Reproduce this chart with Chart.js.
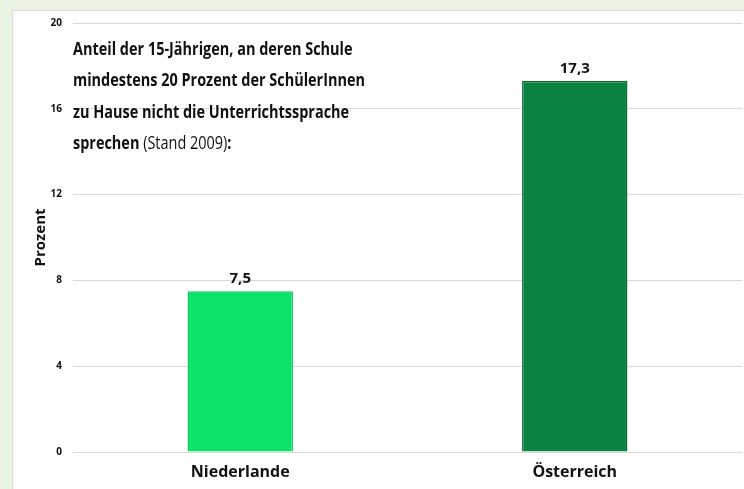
<!DOCTYPE html>
<html lang="de">
<head>
    <meta charset="UTF-8">
    <title>Anteil der 15-Jährigen</title>
    <script src="https://cdn.jsdelivr.net/npm/chart.js"></script>
    <style>
        body {
            margin: 0;
            padding: 0;
            background-color: #ebf3e2;
            width: 744px;
            height: 489px;
            overflow: hidden;
        }
        .panel {
            position: absolute;
            left: 12px;
            top: 10px;
            width: 732px;
            height: 479px;
            background: white;
            border-top: 1px solid #dcdcdc;
            border-left: 1px solid #dcdcdc;
            box-sizing: border-box;
        }
        .panel canvas {
            position: absolute;
            left: 0;
            top: -5px;
        }
    </style>
</head>
<body>
    <div class="panel">
        <canvas id="chart" width="731" height="483"></canvas>
    </div>

    <script>
        // Data
        const countries = ['Niederlande', 'Österreich'];
        const shares = [7.5, 17.3];
        const barColors = ['#0be36b', '#0a8241'];
        const barEdges = ['#09c85d', '#076b34'];
        const yTicks = [0, 4, 8, 12, 16, 20];

        const titleLines = [
            [['Anteil der 15-Jährigen, an deren Schule', 'bold']],
            [['mindestens 20 Prozent der SchülerInnen', 'bold']],
            [['zu Hause nicht die Unterrichtssprache', 'bold']],
            [['sprechen', 'bold'], [' (Stand 2009)', 'normal'], [':', 'bold']]
        ];

        const FONT = "'Open Sans', sans-serif";

        // draws the value above each bar, with a decimal comma
        const valueLabels = {
            id: 'valueLabels',
            afterDatasetsDraw(chart) {
                const ctx = chart.ctx;
                const meta = chart.getDatasetMeta(0);
                ctx.save();
                ctx.font = 'bold 15px ' + FONT;
                ctx.fillStyle = '#111';
                ctx.textAlign = 'center';
                ctx.textBaseline = 'bottom';
                meta.data.forEach((bar, i) => {
                    const txt = shares[i].toFixed(1).replace('.', ',');
                    ctx.fillText(txt, bar.x, bar.y - 5);
                });
                ctx.restore();
            }
        };

        // title text sitting inside the plot area, squeezed to the original width
        const innerTitle = {
            id: 'innerTitle',
            afterDraw(chart) {
                const ctx = chart.ctx;
                const x0 = chart.chartArea.left;
                ctx.save();
                ctx.font = 'bold 17.5px ' + FONT;
                const sx = 292 / ctx.measureText(titleLines[1][0][0]).width;
                ctx.fillStyle = '#111';
                ctx.textBaseline = 'middle';
                let y = 44;
                titleLines.forEach(line => {
                    let x = 0;
                    line.forEach(([txt, weight]) => {
                        ctx.font = weight + ' 17.5px ' + FONT;
                        ctx.save();
                        ctx.translate(x0, 0);
                        ctx.scale(sx, 1);
                        ctx.fillText(txt, x, y);
                        ctx.restore();
                        x += ctx.measureText(txt).width;
                    });
                    y += 31.5;
                });
                ctx.restore();
            }
        };

        new Chart(document.getElementById('chart'), {
            type: 'bar',
            data: {
                labels: countries,
                datasets: [{
                    data: shares,
                    backgroundColor: barColors,
                    borderColor: barEdges,
                    borderWidth: 1.5,
                    barPercentage: 0.63,
                    categoryPercentage: 0.5
                }]
            },
            options: {
                responsive: false,
                animation: false,
                layout: { padding: { left: 19, top: 0, right: 2, bottom: 0 } },
                plugins: {
                    legend: { display: false },
                    tooltip: { enabled: false }
                },
                scales: {
                    x: {
                        grid: { display: false },
                        border: { display: false },
                        ticks: {
                            color: '#111',
                            padding: 3,
                            font: { family: FONT, size: 16, weight: 'bold' }
                        },
                        afterFit(scale) { scale.height = 37; }
                    },
                    y: {
                        min: 0,
                        max: 20,
                        afterBuildTicks(scale) {
                            scale.ticks = yTicks.map(v => ({ value: v }));
                        },
                        grid: { color: '#d9d9d9', lineWidth: 1, drawTicks: false },
                        border: { display: false },
                        ticks: {
                            color: '#111',
                            padding: 11,
                            font: { family: FONT, size: 10, weight: 'bold' }
                        },
                        title: {
                            display: true,
                            text: 'Prozent',
                            color: '#111',
                            padding: 0,
                            font: { family: FONT, size: 15, weight: 'bold' }
                        },
                        afterFit(scale) { scale.width = 41; }
                    }
                }
            },
            plugins: [valueLabels, innerTitle]
        });
    </script>
</body>
</html>
